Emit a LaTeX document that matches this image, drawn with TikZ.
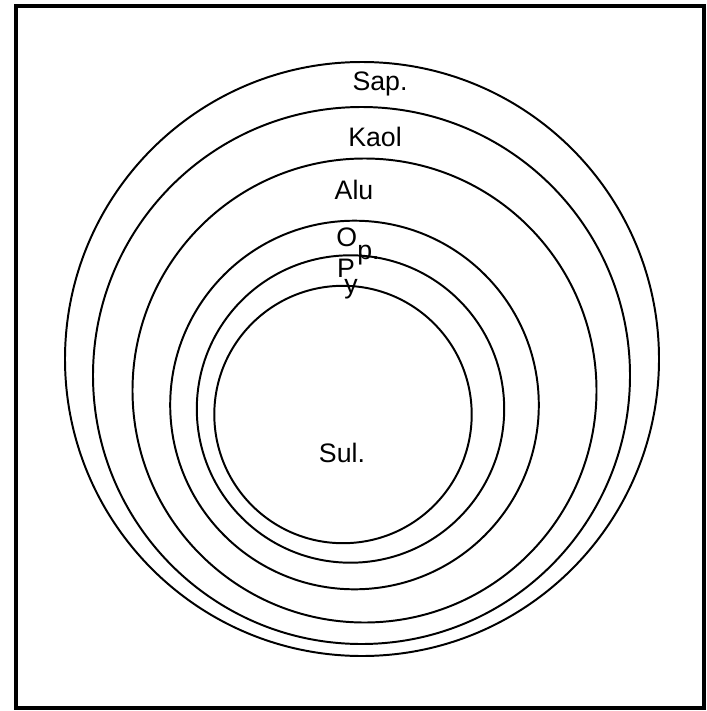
\documentclass[tikz,border=0pt]{standalone}
\usepackage{fontspec}
\setmainfont{Liberation Sans}
\begin{document}
\begin{tikzpicture}[x=0.025cm, y=-0.025cm,
  ring/.style={line width=1.4pt},
  zone/.style={font=\fontsize{19}{22}\selectfont, anchor=base, inner sep=0pt}]

  % Frame
  \useasboundingbox (0,0) rectangle (706,711);
  \draw[line width=2.6pt] (16,6) rectangle (704,708);

  % Zones, outer to inner
  \draw[ring] (362,359) circle (297);
  \draw[ring] (361.5,375.5) circle (268.5);
  \draw[ring] (364.5,390.5) circle (232);
  \draw[ring] (354.5,405) circle (184.3);
  \draw[ring] (350.5,409) circle (153.7);
  \draw[ring] (343,414.5) circle (128.7);

  % Zone names
  \node[zone] (sap) at (380,90) {Sap.};
  \node[zone] (kaol) at (375,146) {Kaol};
  \node[zone] (alu) at (354,199) {Alu};
  \node[zone] (op) at (358,246) {O\raisebox{-0.5em}{p.}};
  \node[zone] (pyP) at (346,277) {P};
  \node[zone] (pyY) at (351,293) {y};
  \node[zone] (sul) at (342,462) {Sul.};

\end{tikzpicture}
\end{document}
